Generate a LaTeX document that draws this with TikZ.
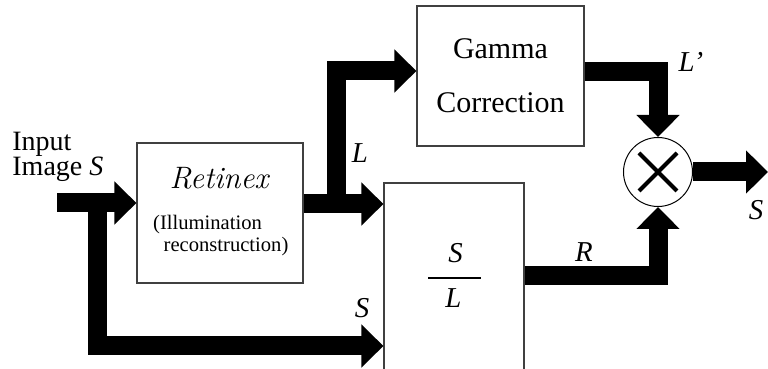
\documentclass[tikz,border=0pt]{standalone}
\usepackage{fontspec}
\usetikzlibrary{arrows.meta}
\newfontfamily\timesfont{Liberation Serif}

\begin{document}
\begin{tikzpicture}[x=0.5pt,y=-0.5pt]
    % Styles
    \tikzstyle{bloc}=[draw=black!75,line width=0.6pt,inner sep=0pt]
    \tikzstyle{fleche}=[-{Triangle[width=21pt,length=11pt]},line width=9.5pt]
    \tikzstyle{etiquette}=[inner sep=0pt,anchor=base,font=\timesfont\fontsize{14.4}{16}\selectfont\itshape]
    \tikzstyle{texte}=[inner sep=0pt,anchor=base,font=\timesfont]
    % Cadre
    \useasboundingbox (0,0) rectangle (768,369);
    % Blocs
    \node[bloc,minimum width=83pt,minimum height=70pt] (retinex) at (220,213) {};
    \node[bloc,minimum width=83.5pt,minimum height=70pt,align=center,
          font=\timesfont\fontsize{15}{15}\selectfont] (gamma) at (500.5,76) {Gamma\\[12pt]Correction};
    \node[bloc,minimum width=70pt,minimum height=95pt] (division) at (454,278) {};
    \node[draw,circle,line width=0.5pt,minimum size=34.5pt,inner sep=0pt] (produit) at (658,172) {};
    \draw[line width=2pt] (produit.center) ++(-19,-19) -- ++(38,38);
    \draw[line width=2pt] (produit.center) ++(-19,19) -- ++(38,-38);
    % Textes
    \node[texte,font=\fontsize{15.5}{17}\selectfont\itshape] (nomretinex) at (219,189) {Retinex};
    \node[texte,font=\timesfont\fontsize{10.3}{12}\selectfont] (illum) at (207.5,230) {(Illumination};
    \node[texte,font=\timesfont\fontsize{10.3}{12}\selectfont] (recons) at (226,252) {reconstruction)};
    \node[etiquette] (num) at (455.5,263) {S};
    \node[etiquette] (den) at (453.5,308) {L};
    \draw[line width=1pt] (428,278) -- (481,278);
    \node[texte,anchor=base west,align=left,font=\timesfont\fontsize{14}{16}\selectfont] (entree) at (12,176) {Input\\[-3.5pt]Image \textit{S}};
    % Points de passage
    \coordinate (depart) at (57,203);
    \coordinate (bifS) at (97,203);
    \coordinate (coinS) at (97,346);
    \coordinate (bifL) at (336,204);
    \coordinate (coinL) at (336,71);
    \coordinate (coinLp) at (658,72);
    \coordinate (coinR) at (658,275.5);
    \coordinate (sortie) at (768,172);
    % Fleches
    \draw[fleche] (depart) -- (depart -| retinex.west);
    \draw[fleche] (bifS) -- (coinS) -- (coinS -| division.west);
    \draw[fleche] (bifL -| retinex.east) -- (bifL -| division.west);
    \draw[fleche] (bifL) -- (coinL) -- (coinL -| gamma.west);
    \draw[fleche] (coinLp -| gamma.east) -- (coinLp) -- (produit.north);
    \draw[fleche] (coinR -| division.east) -- (coinR) -- (produit.south);
    \draw[fleche] (produit.east) -- (sortie);
    % Etiquettes
    \node[etiquette] (lblL) at (360,163) {L};
    \node[etiquette] (lblLp) at (691,72) {L’};
    \node[etiquette] (lblR) at (584,262) {R};
    \node[etiquette] (lblS) at (362,318) {S};
    \node[etiquette] (lblSout) at (756,220) {S};
\end{tikzpicture}
\end{document}
